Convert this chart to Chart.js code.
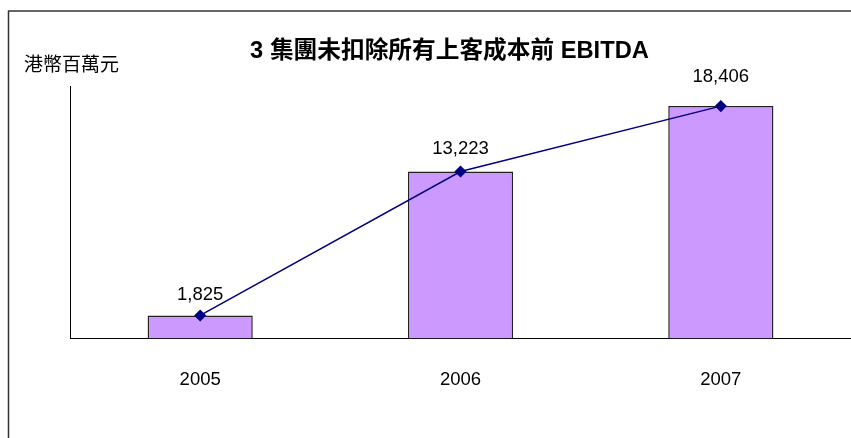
<!DOCTYPE html>
<html>
<head>
<meta charset="utf-8">
<script src="https://cdn.jsdelivr.net/npm/chart.js@4"></script>
<style>
html,body{margin:0;padding:0;background:#fff;}
canvas{display:block;}
</style>
</head>
<body>
<canvas id="c" width="851" height="438"></canvas>
<script>
const categories = ['2005', '2006', '2007'];
const ebitdaValues = [1825, 13223, 18406];
const chartTitle = '3 集團未扣除所有上客成本前 EBITDA';
const yAxisTitle = '港幣百萬元';
const yMin = 0;
const yMax = 20000;

const fmt = v => v.toLocaleString('en-US');

const decor = {
  id: 'decor',
  beforeDraw(chart) {
    const ctx = chart.ctx;
    ctx.save();
    ctx.fillStyle = '#fff';
    ctx.fillRect(0, 0, chart.width, chart.height);
    ctx.strokeStyle = '#333';
    ctx.lineWidth = 1.5;
    ctx.beginPath();
    ctx.moveTo(8.5, chart.height);
    ctx.lineTo(8.5, 11);
    ctx.lineTo(chart.width, 11);
    ctx.stroke();
    // title
    ctx.fillStyle = '#000';
    ctx.textAlign = 'center';
    ctx.textBaseline = 'middle';
    ctx.font = "bold 23.7px 'Liberation Sans', 'Noto Sans CJK TC', sans-serif";
    ctx.fillText(chartTitle, 449.5, 51);
    // y axis title
    ctx.font = "19px 'Noto Sans CJK TC', 'Liberation Sans', sans-serif";
    ctx.fillText(yAxisTitle, 71.5, 64);
    ctx.restore();
  },
  afterDatasetsDraw(chart) {
    const ctx = chart.ctx;
    const meta = chart.getDatasetMeta(1);
    const xs = chart.scales.x;
    const labelGap = [21, 22.5, 29.5];
    ctx.save();
    ctx.fillStyle = '#000';
    ctx.textAlign = 'center';
    ctx.textBaseline = 'middle';
    ctx.font = "18.5px 'Liberation Sans', sans-serif";
    meta.data.forEach((pt, i) => {
      ctx.fillText(fmt(chart.data.datasets[1].data[i]), pt.x, pt.y - labelGap[i]);
    });
    chart.data.labels.forEach((lab, i) => {
      ctx.fillText(lab, xs.getPixelForValue(i), 379.5);
    });
    ctx.restore();
  }
};

new Chart(document.getElementById('c'), {
  data: {
    labels: categories,
    datasets: [
      {
        type: 'bar',
        data: ebitdaValues,
        backgroundColor: '#CC99FF',
        borderColor: '#222',
        borderWidth: 1.5,
        categoryPercentage: 1,
        barPercentage: 0.404,
        order: 2
      },
      {
        type: 'line',
        data: ebitdaValues,
        borderColor: '#000080',
        borderWidth: 1.5,
        backgroundColor: '#000080',
        pointStyle: 'rectRot',
        pointRadius: 5,
        pointBackgroundColor: '#000080',
        pointBorderColor: '#000080',
        tension: 0,
        order: 1
      }
    ]
  },
  options: {
    responsive: false,
    animation: false,
    devicePixelRatio: 1,
    layout: { autoPadding: false, padding: { left: 70, top: 86, right: 0, bottom: 99.5 } },
    plugins: {
      legend: { display: false },
      title: { display: false },
      tooltip: { enabled: false }
    },
    scales: {
      x: {
        grid: { display: false, drawTicks: false },
        border: { display: true, color: '#000', width: 1 },
        ticks: { display: false },
        afterFit(s) { s.height = 0; s.paddingLeft = 0; s.paddingRight = 0; }
      },
      y: {
        min: yMin,
        max: yMax,
        grid: { display: false, drawTicks: false },
        border: { display: true, color: '#000', width: 1 },
        ticks: { display: false },
        afterFit(s) { s.width = 0; s.paddingTop = 0; s.paddingBottom = 0; }
      }
    }
  },
  plugins: [decor]
});
</script>
</body>
</html>
